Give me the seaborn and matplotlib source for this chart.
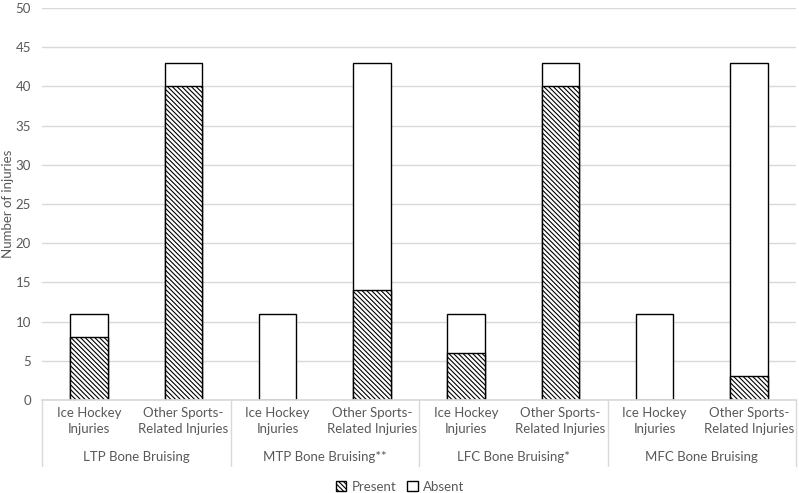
import pandas as pd
import numpy as np
import matplotlib
matplotlib.use("Agg")
import matplotlib.pyplot as plt
import matplotlib.patches as mpatches
import matplotlib.transforms as mtrans
import seaborn as sns

# data
groups = ["LTP Bone Bruising", "MTP Bone Bruising**", "LFC Bone Bruising*", "MFC Bone Bruising"]
subgroups = ["Ice Hockey\nInjuries", "Other Sports-\nRelated Injuries"]
present = [8, 40, 0, 14, 6, 40, 0, 3]
absent = [3, 3, 11, 29, 5, 3, 11, 40]
yticks = list(range(0, 55, 5))

keys = [f"{g}|{s}" for g in groups for s in subgroups]
df = pd.DataFrame({"key": keys, "present": present, "absent": absent})
df["total"] = df["present"] + df["absent"]

sns.set_theme(style="white")
plt.rcParams['font.family'] = ['Lato', 'DejaVu Sans']
plt.rcParams['hatch.linewidth'] = 0.8
txt = "#595959"
grid = "#d9d9d9"
hatch = "\\" * 7

fig = plt.figure(figsize=(7.99, 4.93), dpi=100)
ax = fig.add_axes([42/799, 93/493, 754/799, 392/493])

# total bar (white = absent on top), then present bar drawn over the bottom part
sns.barplot(data=df, x="key", y="total", order=keys, color="white",
            edgecolor="black", linewidth=1.0, width=0.40, ax=ax, saturation=1)
sns.barplot(data=df, x="key", y="present", order=keys, color="white",
            edgecolor="black", linewidth=1.0, width=0.40, ax=ax, saturation=1,
            hatch=hatch)

ax.set_ylim(0, 50)
ax.set_xlim(-0.5, len(keys) - 0.5)
ax.set_yticks(yticks)
ax.yaxis.grid(True, color=grid, linewidth=1.0)
ax.set_axisbelow(True)
for sp in ["top", "right", "left"]:
    ax.spines[sp].set_visible(False)
ax.spines["bottom"].set_color(grid)
ax.tick_params(axis="y", length=0, labelsize=9.5, labelcolor=txt, pad=8)
ax.tick_params(axis="x", length=0)
ax.set_xticks(range(len(keys)))
ax.set_xticklabels([s for g in groups for s in subgroups], fontsize=9.5,
                   color=txt, linespacing=1.4)
ax.tick_params(axis="x", pad=5)
ax.set_xlabel("")
ax.set_ylabel("")
fig.text(8/799, 0.5 + 0.5 * (93/493) - 0.5 * (1 - 93/493 - 392/493), "Number of injuries",
         rotation=90, ha="center", va="center", fontsize=9.5, color=txt)

# group labels and separators below the axis
trans = mtrans.blended_transform_factory(ax.transData, ax.transAxes)
for i, g in enumerate(groups):
    ax.text(2 * i + 0.5, -57/392, g, transform=trans, ha="center", va="center",
            fontsize=9.5, color=txt)
for b in range(len(groups) + 1):
    ax.plot([2 * b - 0.5, 2 * b - 0.5], [0, -66/392], transform=trans,
            color=grid, linewidth=1.0, clip_on=False)

handles = [mpatches.Patch(facecolor="white", edgecolor="black", hatch=hatch, label="Present"),
           mpatches.Patch(facecolor="white", edgecolor="black", label="Absent")]
leg = fig.legend(handles=handles, loc="center", bbox_to_anchor=(400/799, 1 - 487/493),
                 ncol=2, frameon=False, fontsize=9.5, handlelength=0.8, handleheight=0.8,
                 handletextpad=0.4, columnspacing=0.8)
for t in leg.get_texts():
    t.set_color(txt)

fig.savefig("out.png", dpi=100)
